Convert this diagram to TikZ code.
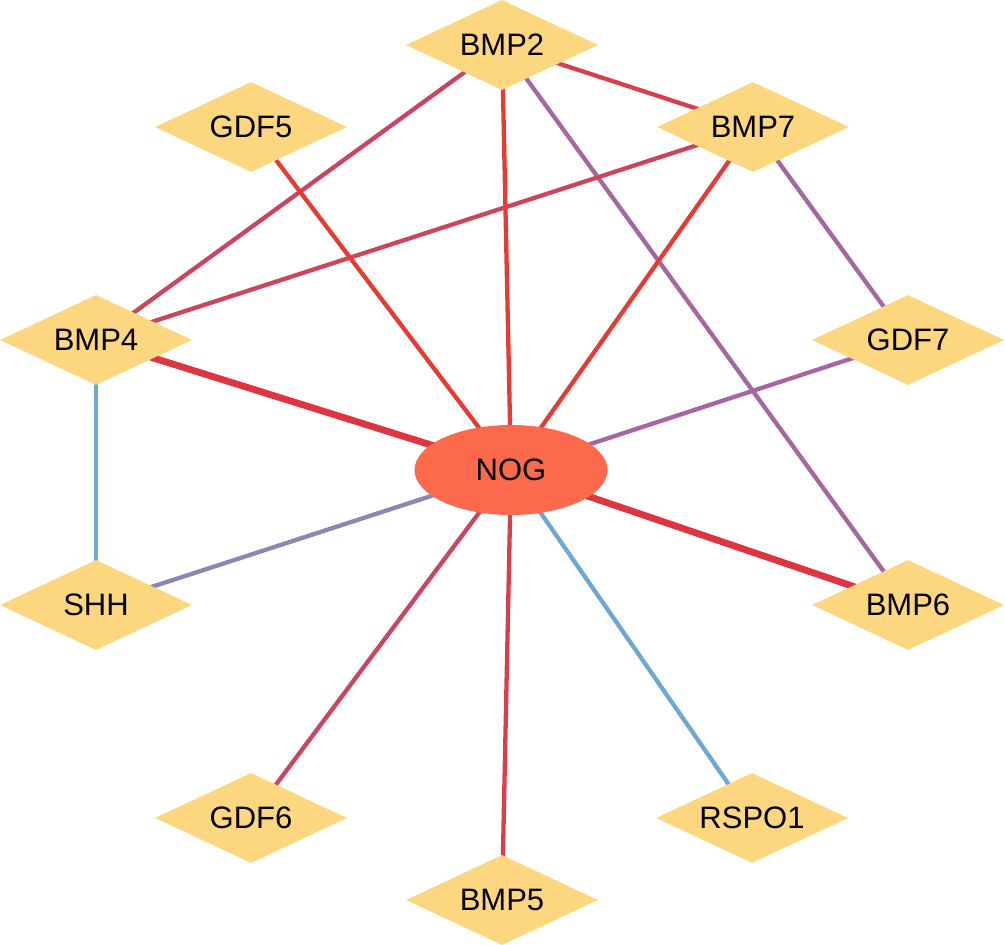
\documentclass[tikz,border=0pt]{standalone}
\usepackage{fontspec}
\setmainfont{Liberation Sans}
\usepackage{tikz}
\usetikzlibrary{shapes.geometric,backgrounds}
\definecolor{Amber}{HTML}{FCD77F}
\definecolor{Tomato}{HTML}{FC6A4B}
\definecolor{HotRed}{HTML}{E63B33}
\definecolor{DeepRed}{HTML}{DE3540}
\definecolor{RoseRed}{HTML}{D83F4C}
\definecolor{Crimson}{HTML}{CB4560}
\definecolor{Plum}{HTML}{A6669E}
\definecolor{Lilac}{HTML}{8E85B5}
\definecolor{SkyBlue}{HTML}{6DA8D3}

\begin{document}
\begin{tikzpicture}[
    x=1pt, y=-1pt,
    font=\fontsize{31}{37}\selectfont,
    gene/.style={diamond, aspect=2.13, fill=Amber, minimum width=192pt, minimum height=90pt, inner sep=0pt},
    hub/.style={ellipse, fill=Tomato, minimum width=193pt, minimum height=90pt, inner sep=0pt},
    lnk/.style={line width=4.3pt},
    thk/.style={line width=6.8pt}
]
\useasboundingbox (0,0) rectangle (1005,945);
\node[hub] (nog) at (511,470) {NOG};
\node[gene] (bmp2) at (502,45) {BMP2};
\node[gene] (gdf5) at (251,127) {GDF5};
\node[gene] (bmp7) at (753,127) {BMP7};
\node[gene] (bmp4) at (96,340) {BMP4};
\node[gene] (gdf7) at (908,340) {GDF7};
\node[gene] (shh) at (96,605) {SHH};
\node[gene] (bmp6) at (908,605) {BMP6};
\node[gene] (gdf6) at (251,818) {GDF6};
\node[gene] (rspo1) at (752,818) {RSPO1};
\node[gene] (bmp5) at (502,900) {BMP5};

\begin{scope}[on background layer]
% links between neighbours
\draw[lnk, Crimson] (bmp2.center) -- (bmp4.center);
\draw[lnk, RoseRed] (bmp2.center) -- (bmp7.center);
\draw[lnk, Plum] (bmp2.center) -- (bmp6.center);
\draw[lnk, Crimson!85!RoseRed] (bmp7.center) -- (bmp4.center);
\draw[lnk, Plum] (bmp7.center) -- (gdf7.center);
\draw[lnk, SkyBlue] (bmp4.center) -- (shh.center);
% links to the hub
\draw[lnk, HotRed] (bmp2.center) -- (nog.center);
\draw[lnk, HotRed] (gdf5.center) -- (nog.center);
\draw[lnk, HotRed] (bmp7.center) -- (nog.center);
\draw[thk, DeepRed] (bmp4.center) -- (nog.center);
\draw[lnk, Plum] (gdf7.center) -- (nog.center);
\draw[lnk, Lilac] (shh.center) -- (nog.center);
\draw[thk, DeepRed] (bmp6.center) -- (nog.center);
\draw[lnk, Crimson] (gdf6.center) -- (nog.center);
\draw[lnk, SkyBlue] (rspo1.center) -- (nog.center);
\draw[lnk, RoseRed] (bmp5.center) -- (nog.center);
\end{scope}
\end{tikzpicture}
\end{document}
